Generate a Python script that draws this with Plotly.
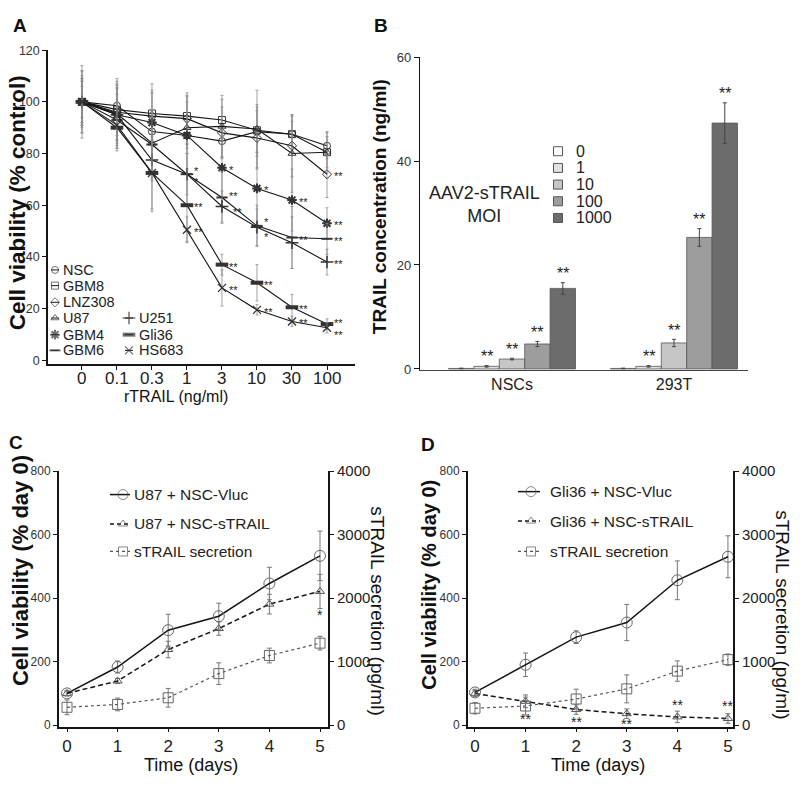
import plotly.graph_objects as go

W, H = 800, 787
FONT = "Liberation Sans, Arial, sans-serif"

# ---------------- Panel A data ----------------
a_doses = ["0", "0.1", "0.3", "1", "3", "10", "30", "100"]
a_names = ["NSC", "GBM8", "LNZ308", "U87", "GBM4", "GBM6", "U251", "Gli36", "HS683"]
a_nsc = [100, 98.5, 88.5, 87.0, 84.8, 88.5, 87.5, 83.0]
a_gbm8 = [100, 97.0, 95.5, 94.5, 93.0, 89.0, 87.5, 80.5]
a_lnz308 = [100, 96.0, 94.5, 93.5, 88.0, 86.0, 83.0, 72.0]
a_u87 = [100, 95.5, 84.0, 90.0, 90.5, 89.5, 80.0, 80.5]
a_gbm4 = [100, 95.0, 92.0, 87.0, 74.5, 66.5, 62.0, 53.0]
a_gbm6 = [100, 93.0, 83.5, 72.0, 63.0, 52.0, 47.5, 47.0]
a_u251 = [100, 95.0, 77.5, 72.0, 59.5, 51.5, 45.5, 38.0]
a_gli36 = [100, 90.0, 72.5, 60.0, 37.0, 30.0, 20.5, 14.0]
a_hs683 = [100, 91.0, 72.5, 50.5, 28.0, 19.5, 15.0, 12.6]

a_nsc_err = [10, 8, 6, 5, 6, 8, 5, 5]
a_gbm8_err = [12, 10, 8, 8, 8, 10, 7, 6]
a_lnz308_err = [14, 12, 10, 10, 10, 12, 12, 9]
a_u87_err = [8, 10, 12, 10, 12, 15, 15, 8]
a_gbm4_err = [12, 14, 15, 15, 15, 14, 12, 6]
a_gbm6_err = [9, 10, 13, 12, 10, 8, 12, 6]
a_u251_err = [8, 10, 8, 8, 6, 7, 10, 5]
a_gli36_err = [6, 8, 15, 14, 4, 7, 5, 2]
a_hs683_err = [9, 9, 14, 5, 7, 2, 2, 2]

a_lnz308_sig = ["", "", "", "", "", "", "", "**"]
a_gbm4_sig = ["", "", "", "", "*", "*", "**", "**"]
a_gbm6_sig = ["", "", "", "*", "**", "*", "**", "**"]
a_u251_sig = ["", "", "", "*", "**", "*", "", "**"]
a_gli36_sig = ["", "", "", "**", "**", "**", "**", "**"]
a_hs683_sig = ["", "", "", "**", "**", "**", "**", "**"]

# ---------------- Panel B data ----------------
b_groups = ["NSCs", "293T"]
b_moi = ["0", "1", "10", "100", "1000"]
b_moi0 = [0.1, 0.1]
b_moi1 = [0.5, 0.5]
b_moi10 = [1.9, 5.0]
b_moi100 = [4.8, 25.3]
b_moi1000 = [15.5, 47.3]
b_err0 = [0.05, 0.05]
b_err1 = [0.15, 0.15]
b_err10 = [0.15, 0.7]
b_err100 = [0.5, 1.7]
b_err1000 = [1.1, 3.9]
b_sig0 = ["", ""]
b_sig1 = ["**", "**"]
b_sig10 = ["**", "**"]
b_sig100 = ["**", "**"]
b_sig1000 = ["**", "**"]

# ---------------- Panel C data ----------------
c_days = [0, 1, 2, 3, 4, 5]
c_vluc = [100, 183, 299, 343, 446, 533]
c_vluc_err = [8, 19, 50, 41, 51, 78]
c_strail = [100, 139, 238, 304, 381, 421]
c_strail_err = [8, 8, 26, 21, 31, 54]
c_secr = [280, 325, 430, 810, 1095, 1290]
c_secr_err = [116, 100, 147, 170, 116, 108]
c_sig = ["", "", "", "", "", "*"]

# ---------------- Panel D data ----------------
d_days = [0, 1, 2, 3, 4, 5]
d_vluc = [103, 190, 277, 323, 456, 530]
d_vluc_err = [10, 37, 20, 57, 61, 66]
d_strail = [100, 75, 49, 36, 26, 21]
d_strail_err = [10, 20, 15, 15, 18, 15]
d_secr = [265, 300, 410, 570, 850, 1030]
d_secr_err = [90, 140, 155, 220, 160, 90]
d_sig = ["", "**", "**", "**", "**", "**"]

# ---------------- styles ----------------
def fx(x):
    return x / W

def fy(y):
    return 1 - y / H

BLACK = "#151515"
ERRC = "#8a8a8a"

a_vals = [a_nsc, a_gbm8, a_lnz308, a_u87, a_gbm4, a_gbm6, a_u251, a_gli36, a_hs683]
a_errs = [a_nsc_err, a_gbm8_err, a_lnz308_err, a_u87_err, a_gbm4_err, a_gbm6_err,
          a_u251_err, a_gli36_err, a_hs683_err]
a_sigs = [None, None, a_lnz308_sig, None, a_gbm4_sig, a_gbm6_sig, a_u251_sig, a_gli36_sig, a_hs683_sig]
a_sym = {
    "NSC": ("circle-open", 7, 1.0),
    "GBM8": ("square-open", 7, 1.0),
    "LNZ308": ("diamond-open", 7, 1.0),
    "U87": ("triangle-up-open", 7, 1.0),
    "GBM4": ("asterisk-open", 8, 2.0),
    "GBM6": ("line-ew-open", 8, 2.0),
    "U251": ("cross-thin-open", 9, 1.5),
    "Gli36": ("line-ew-open", 9, 4.0),
    "HS683": ("x-thin-open", 8, 1.3),
}
# per-point vertical nudges (px) of the significance marks, and extra x nudges
a_sig_dy = {"GBM6": {3: 5, 4: 3, 5: 6}, "U251": {3: -6, 4: -4, 5: -8}, "Gli36": {7: 3}, "HS683": {7: -5}}
a_sig_dx = {"U251": {4: 4}}

fig = go.Figure()
annotations = []

# ---------------- Panel A traces ----------------
xi = list(range(len(a_doses)))
for name, vals, errs in zip(a_names, a_vals, a_errs):
    sym, sz, lw = a_sym[name]
    fig.add_trace(go.Scatter(
        x=xi, y=vals, mode="lines+markers", xaxis="x", yaxis="y",
        line=dict(color=BLACK, width=1.1),
        marker=dict(symbol=sym, size=sz, color="#333", line=dict(color="#333", width=lw)),
        error_y=dict(type="data", array=errs, color=ERRC, thickness=0.8, width=1.5),
        cliponaxis=False,
    ))
for name, vals, sig in zip(a_names, a_vals, a_sigs):
    if sig is None:
        continue
    for i, s in enumerate(sig):
        if s:
            annotations.append(dict(
                x=i, y=vals[i], xref="x", yref="y", text=s, showarrow=False,
                xanchor="left", yanchor="middle",
                xshift=5 + a_sig_dx.get(name, {}).get(i, 0),
                yshift=a_sig_dy.get(name, {}).get(i, 0) - 2,
                font=dict(size=11, color="#222")))
# x tick labels of panel A (placed just under the axis, as in the original)
for i, lab in zip(xi, a_doses):
    annotations.append(dict(x=i, y=fy(377), xref="x", yref="paper", text=lab, showarrow=False,
                            xanchor="center", yanchor="middle", font=dict(size=17, color="#222")))

# ---------------- Panel B traces ----------------
b_vals = [b_moi0, b_moi1, b_moi10, b_moi100, b_moi1000]
b_errs = [b_err0, b_err1, b_err10, b_err100, b_err1000]
b_sigs = [b_sig0, b_sig1, b_sig10, b_sig100, b_sig1000]
b_colors = ["#ffffff", "#e0e0e0", "#c6c6c6", "#9d9d9d", "#6c6c6c"]
B_BARGAP = 0.216
for k, (lab, vals, errs) in enumerate(zip(b_moi, b_vals, b_errs)):
    fig.add_trace(go.Bar(
        x=[0, 1], y=vals, xaxis="x2", yaxis="y2", name=lab,
        marker=dict(color=b_colors[k], line=dict(color="#555", width=0.8)),
        error_y=dict(type="data", array=errs, color="#444", thickness=1, width=2),
    ))
barw = (1 - B_BARGAP) / len(b_moi)
for k, (vals, errs, sig) in enumerate(zip(b_vals, b_errs, b_sigs)):
    for g in range(len(b_groups)):
        if sig[g]:
            annotations.append(dict(
                x=g - (1 - B_BARGAP) / 2 + barw * (k + 0.5), y=vals[g] + errs[g],
                xref="x2", yref="y2", text=sig[g], showarrow=False,
                xanchor="center", yanchor="middle", yshift=9,
                font=dict(size=16, color="#222")))

# ---------------- Panel C / D traces ----------------
def timecourse(xa, ya, yb, days, vluc, vluc_e, strail, strail_e, secr, secr_e):
    fig.add_trace(go.Scatter(
        x=days, y=secr, mode="lines+markers", xaxis=xa, yaxis=yb,
        line=dict(color="#555", width=1.2, dash="dot"),
        marker=dict(symbol="square-open", size=10, color="#666", line=dict(width=1)),
        error_y=dict(type="data", array=secr_e, color="#777", thickness=1, width=2.5),
        cliponaxis=False))
    fig.add_trace(go.Scatter(
        x=days, y=strail, mode="lines+markers", xaxis=xa, yaxis=ya,
        line=dict(color=BLACK, width=1.5, dash="5px,3px"),
        marker=dict(symbol="triangle-up-open", size=8, color="#555", line=dict(width=1)),
        error_y=dict(type="data", array=strail_e, color="#777", thickness=1, width=2.5),
        cliponaxis=False))
    fig.add_trace(go.Scatter(
        x=days, y=vluc, mode="lines+markers", xaxis=xa, yaxis=ya,
        line=dict(color=BLACK, width=1.5),
        marker=dict(symbol="circle-open", size=11, color="#666", line=dict(width=1)),
        error_y=dict(type="data", array=vluc_e, color="#777", thickness=1, width=2.5),
        cliponaxis=False))

timecourse("x3", "y3", "y4", c_days, c_vluc, c_vluc_err, c_strail, c_strail_err, c_secr, c_secr_err)
timecourse("x4", "y5", "y6", d_days, d_vluc, d_vluc_err, d_strail, d_strail_err, d_secr, d_secr_err)

for i, s in enumerate(c_sig):
    if s:
        annotations.append(dict(x=c_days[i], y=c_strail[i], xref="x3", yref="y3", text=s,
                                showarrow=False, yshift=-24, font=dict(size=14, color="#222")))
d_sig_dy = [0, -18, -12, -10, 12, 12]
for i, s in enumerate(d_sig):
    if s:
        annotations.append(dict(x=d_days[i], y=d_strail[i], xref="x4", yref="y5", text=s,
                                showarrow=False, yshift=d_sig_dy[i], font=dict(size=14, color="#222")))

# ---------------- Legends (drawn in a pixel-space overlay axis) ----------------
def legend_glyph(x0, xm, x1, y, sym, size, lw, dash="solid", color=BLACK, lcolor=BLACK, lwidth=1.2):
    fig.add_trace(go.Scatter(
        x=[x0, xm, x1], y=[y, y, y], mode="lines+markers", xaxis="x5", yaxis="y7",
        line=dict(color=lcolor, width=lwidth, dash=dash),
        marker=dict(symbol=sym, size=[0, size, 0], color=color, line=dict(color=color, width=lw)),
        cliponaxis=False, hoverinfo="skip"))

def legend_text(x, y, text, size):
    annotations.append(dict(x=x, y=y, xref="x5", yref="y7", text=text, showarrow=False,
                            xanchor="left", yanchor="middle", font=dict(size=size, color="#222")))

# Panel A legend
a_leg_pos = {
    "NSC": (55, 61, 266), "GBM8": (55, 61, 282), "LNZ308": (55, 61, 299),
    "U87": (55, 61, 315), "GBM4": (55, 61, 332), "GBM6": (55, 61, 348),
    "U251": (129, 137, 315), "Gli36": (129, 137, 332), "HS683": (129, 137, 348),
}
for name in a_names:
    mx, tx, ty = a_leg_pos[name]
    sym, sz, lw = a_sym[name]
    legend_glyph(mx - 4, mx, mx + 4, ty, sym, sz, lw, color="#333", lwidth=1)
    legend_text(tx, ty, name, 14.5)

# Panel B legend
for k, lab in enumerate(b_moi):
    yy = 145 + k * 17
    fig.add_trace(go.Scatter(
        x=[558], y=[yy], mode="markers", xaxis="x5", yaxis="y7",
        marker=dict(symbol="square", size=9, color=b_colors[k], line=dict(color="#555", width=1)),
        cliponaxis=False, hoverinfo="skip"))
    legend_text(574, yy, lab, 16)
annotations.append(dict(x=484, y=199, xref="x5", yref="y7", text="AAV2-sTRAIL<br>MOI",
                        showarrow=False, xanchor="center", yanchor="middle", align="center",
                        font=dict(size=18, color="#222")))

# Panel C / D legends
for (x0, xm, x1, tx, rows, labels) in [
    (110, 123, 130, 132, [495, 525, 553], ["U87 + NSC-Vluc", "U87 + NSC-sTRAIL", "sTRAIL secretion"]),
    (518, 531, 540, 548, [492, 522, 553], ["Gli36 + NSC-Vluc", "Gli36 + NSC-sTRAIL", "sTRAIL secretion"]),
]:
    legend_glyph(x0, xm, x1, rows[0], "circle-open", 10, 1, color="#555", lwidth=1.5)
    legend_glyph(x0, xm, x1, rows[1], "triangle-up-open", 8, 1, dash="4px,3px", color="#555", lwidth=1.5)
    legend_glyph(x0, xm, x1, rows[2], "square-open", 9, 1, dash="dot", color="#555", lcolor="#555", lwidth=1.2)
    for r, lab in zip(rows, labels):
        legend_text(tx, r, lab, 15.5)

# ---------------- Titles / panel labels ----------------
def ptext(x, y, text, size, bold=False, angle=0, anchor="center"):
    annotations.append(dict(x=fx(x), y=fy(y), xref="paper", yref="paper",
                            text=f"<b>{text}</b>" if bold else text, showarrow=False,
                            textangle=angle, xanchor=anchor, yanchor="middle",
                            font=dict(size=size, color="#111")))

ptext(20, 17, "A", 19, bold=True)
ptext(381, 17, "B", 19, bold=True)
ptext(16, 442, "C", 19, bold=True)
ptext(428, 444, "D", 19, bold=True)

ptext(17, 198, "Cell viability (% control)", 22.5, bold=True, angle=-90)
ptext(176, 395, "rTRAIL (ng/ml)", 16)
ptext(379, 202, "TRAIL concentration (ng/ml)", 19, bold=True, angle=-90)
ptext(20, 573, "Cell viability (% day 0)", 22, bold=True, angle=-90)
ptext(378, 613, "sTRAIL secretion (pg/ml)", 19, angle=90)
ptext(191, 771, "Time (days)", 18)
ptext(429, 587, "Cell viability (% day 0)", 20, bold=True, angle=-90)
ptext(783, 617, "sTRAIL secretion (pg/ml)", 19, angle=90)
ptext(598, 771, "Time (days)", 18)

# ---------------- Axes ----------------
axbase = dict(showgrid=False, zeroline=False, showline=True, linecolor=BLACK,
              ticks="outside", tickcolor=BLACK, tickfont=dict(color="#222"))

def ax(**kw):
    d = dict(axbase)
    d.update(kw)
    return d

fig.update_layout(
    width=W, height=H, margin=dict(l=0, r=0, t=0, b=0),
    paper_bgcolor="white", plot_bgcolor="rgba(0,0,0,0)", showlegend=False,
    font=dict(family=FONT, color="#222"),
    barmode="group", bargap=B_BARGAP, bargroupgap=0,
    # Panel A
    xaxis=ax(domain=[fx(48), fx(355)], range=[-0.97, 7.8], anchor="y",
             tickvals=xi, showticklabels=False, ticklen=4, linewidth=1.5),
    yaxis=ax(domain=[fy(362), fy(42)], range=[-1.5, 120], anchor="x",
             tickvals=[0, 20, 40, 60, 80, 100, 120], ticklen=4, linewidth=1.5,
             tickfont=dict(size=12.5, color="#333")),
    # Panel B
    xaxis2=ax(domain=[fx(420), fx(748)], range=[-0.568, 1.457], anchor="y2",
              tickvals=[0, 1], ticktext=b_groups, ticks="", linewidth=1.2,
              linecolor="#444", tickfont=dict(size=16, color="#222")),
    yaxis2=ax(domain=[fy(368), fy(49)], range=[-0.2, 60], anchor="x2",
              tickvals=[0, 20, 40, 60], ticklen=5, linewidth=1.2,
              tickfont=dict(size=13, color="#333")),
    # Panel C
    xaxis3=ax(domain=[fx(59), fx(328)], range=[-0.158, 5.158], anchor="y3",
              tickvals=c_days, ticklen=3, linewidth=2, tickfont=dict(size=17, color="#222")),
    yaxis3=ax(domain=[fy(732), fy(471)], range=[-6, 800], anchor="x3",
              tickvals=[0, 200, 400, 600, 800], ticklen=4, linewidth=2,
              tickfont=dict(size=12, color="#333")),
    yaxis4=ax(overlaying="y3", side="right", anchor="x3", range=[-31, 4000],
              tickvals=[0, 1000, 2000, 3000, 4000], ticklen=4, linewidth=2,
              tickfont=dict(size=15, color="#222")),
    # Panel D
    xaxis4=ax(domain=[fx(468), fx(733)], range=[-0.138, 5.1], anchor="y5",
              tickvals=d_days, ticklen=3, linewidth=2, tickfont=dict(size=17, color="#222")),
    yaxis5=ax(domain=[fy(732), fy(471)], range=[-6, 800], anchor="x4",
              tickvals=[0, 200, 400, 600, 800], ticklen=4, linewidth=2,
              tickfont=dict(size=12, color="#333")),
    yaxis6=ax(overlaying="y5", side="right", anchor="x4", range=[-31, 4000],
              tickvals=[0, 1000, 2000, 3000, 4000], ticklen=4, linewidth=2,
              tickfont=dict(size=15, color="#222")),
    # pixel-space overlay for legends
    xaxis5=dict(domain=[0, 1], range=[0, W], anchor="y7", visible=False, fixedrange=True),
    yaxis7=dict(domain=[0, 1], range=[H, 0], anchor="x5", visible=False, fixedrange=True),
    annotations=annotations,
)

fig.write_html("out.html", post_script="document.body.style.margin='0';",
               config={"displayModeBar": False})
